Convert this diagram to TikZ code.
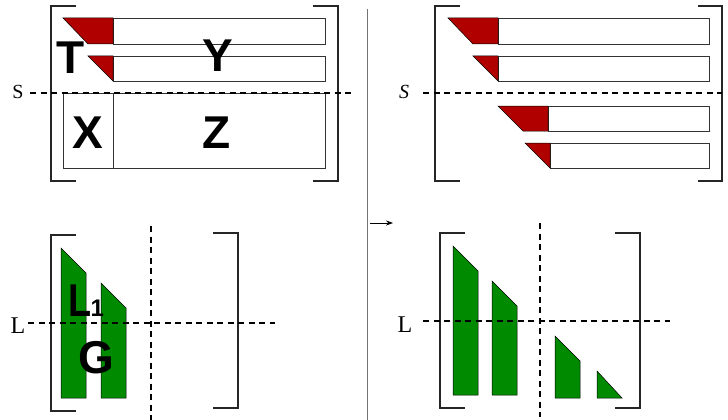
\documentclass[tikz,border=0pt]{standalone}
\usepackage{fontspec}
\setmainfont{Liberation Serif}
\newfontfamily\labelsans{Liberation Sans}
\usetikzlibrary{arrows.meta}
\definecolor{blockred}{RGB}{176,0,0}
\definecolor{blockgreen}{RGB}{0,138,0}

\begin{document}
\begin{tikzpicture}[
    x=1pt,y=-1pt,
    brk/.style={line width=1.4pt,draw=black!85},
    cut/.style={dash pattern=on 6pt off 4.5pt,line width=1.1pt},
    rowbox/.style={draw=black!80,line width=0.7pt},
    redpart/.style={fill=blockred,draw=black,line width=0.5pt},
    greenpart/.style={fill=blockgreen,draw=black,line width=0.5pt},
    big/.style={font=\labelsans\bfseries\fontsize{46}{46}\selectfont,inner sep=0pt,anchor=base},
    axis/.style={font=\fontsize{20}{20}\selectfont,inner sep=0pt,anchor=base}
  ]
    \useasboundingbox (0,0) rectangle (728,420);

    % top left: S split
    \draw[brk] (76,6) -- (51,6) -- (51,181) -- (76,181);
    \draw[brk] (313,6) -- (338,6) -- (338,181) -- (313,181);
    \draw[rowbox] (113,18) rectangle (325,44);
    \draw[rowbox] (113,56) rectangle (325,81);
    \draw[redpart] (63,18) -- (113,18) -- (113,44) -- (88,44) -- cycle;
    \draw[redpart] (88,56) -- (113,56) -- (113,81) -- cycle;
    \draw[rowbox] (63,93) rectangle (325,168);
    \draw[rowbox] (113,93) -- (113,168);
    \draw[cut] (30,93) -- (353,93);
    \node[axis] (sl) at (18,99) {S};
    \node[big] (t) at (71,74) {T};
    \node[big] (y) at (218,71) {Y};
    \node[big] (x) at (88,148) {X};
    \node[big] (z) at (217,148) {Z};

    % top right
    \draw[brk] (460,6) -- (435,6) -- (435,181) -- (460,181);
    \draw[brk] (698,6) -- (722,6) -- (722,181) -- (698,181);
    \draw[rowbox] (498,18) rectangle (709,44);
    \draw[rowbox] (498,56) rectangle (709,81);
    \draw[rowbox] (548,106) rectangle (709,131);
    \draw[rowbox] (550,143) rectangle (709,168);
    \draw[redpart] (448,18) -- (498,18) -- (498,44) -- (473,44) -- cycle;
    \draw[redpart] (473,56) -- (498,56) -- (498,81) -- cycle;
    \draw[redpart] (498,106) -- (548,106) -- (548,131) -- (523,131) -- cycle;
    \draw[redpart] (525,143) -- (550,143) -- (550,168) -- cycle;
    \draw[cut] (423,93) -- (722,93);
    \node[axis,font=\fontsize{20}{20}\selectfont\itshape] (sr) at (404,99) {S};

    % separator and arrow
    \draw[line width=1pt,draw=black!55] (367,9) -- (367,420);
    \coordinate (arrfrom) at (370,223);
    \coordinate (arrto) at (393,223);
    \draw[-{Stealth[length=7pt,width=5pt]},line width=0.8pt] (arrfrom) -- (arrto);

    % bottom left: L split
    \draw[brk] (76,235) -- (51,235) -- (51,411) -- (76,411);
    \draw[brk] (213,233) -- (238,233) -- (238,408) -- (213,408);
    \draw[greenpart] (61,248) -- (86,273) -- (86,398) -- (61,398) -- cycle;
    \draw[greenpart] (101,283) -- (126,308) -- (126,398) -- (101,398) -- cycle;
    \draw[cut] (28,323) -- (275,323);
    \draw[cut] (151,226) -- (151,420);
    \node[axis,font=\fontsize{24}{24}\selectfont] (ll) at (18,333) {L};
    \node[big,anchor=base west,xscale=0.82,transform shape] (l) at (68,316) {L};
    \node[font=\labelsans\bfseries\fontsize{24}{24}\selectfont,inner sep=0pt,anchor=base west] (one) at ([xshift=-1pt]l.base east) {1};
    \node[big] (g) at (96,373) {G};

    % bottom right
    \draw[brk] (465,233) -- (440,233) -- (440,408) -- (465,408);
    \draw[brk] (615,233) -- (640,233) -- (640,408) -- (615,408);
    \draw[greenpart] (453,246) -- (478,271) -- (478,395) -- (453,395) -- cycle;
    \draw[greenpart] (492,281) -- (517,306) -- (517,395) -- (492,395) -- cycle;
    \draw[greenpart] (555,336) -- (580,361) -- (580,398) -- (555,398) -- cycle;
    \draw[greenpart] (597,371) -- (622,398) -- (597,398) -- cycle;
    \draw[cut] (423,321) -- (670,321);
    \draw[cut] (540,223) -- (540,417);
    \node[axis,font=\fontsize{24}{24}\selectfont] (lr) at (405,332) {L};
\end{tikzpicture}
\end{document}
